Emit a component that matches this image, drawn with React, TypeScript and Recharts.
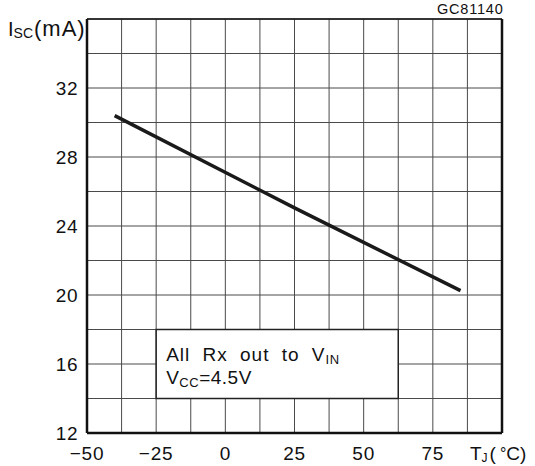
import React from "react";
import {
  CartesianGrid,
  Line,
  LineChart,
  ReferenceArea,
  ReferenceLine,
  XAxis,
  YAxis,
} from "recharts";

// junction temperature (°C) and short-circuit current (mA)
const temps = [-40, 25, 85];
const isc = [30.4, 25.05, 20.25];

const xTicks = [-50, -37.5, -25, -12.5, 0, 12.5, 25, 37.5, 50, 62.5, 75, 87.5, 100];
const yTicks = [12, 14, 16, 18, 20, 22, 24, 26, 28, 30, 32, 34, 36];
const xLabels = [-50, -25, 0, 25, 50, 75];
const yLabels = [12, 16, 20, 24, 28, 32];

const data = temps.map((t, i) => ({ t, isc: isc[i] }));

const FONT = "'Liberation Sans', Arial, sans-serif";

function XTick(props: any) {
  const { x, y, payload } = props;
  const v = payload.value;
  if (v === 100) {
    return (
      <text x={x - 32} y={y + 27} fontFamily={FONT} fontSize={19} fill="#111">
        T
        <tspan fontSize={12} dy={2}>J</tspan>
        <tspan dy={-2} dx={2}>(</tspan>
        <tspan dx={4} fontSize={16} dy={-1}>°</tspan>
        <tspan dy={1}>C)</tspan>
      </text>
    );
  }
  if (!xLabels.includes(v)) return null;
  return (
    <text
      x={x}
      y={y + 27}
      textAnchor="middle"
      fontFamily={FONT}
      fontSize={19}
      letterSpacing={0.8}
      fill="#111"
    >
      {String(v).replace("-", "\u2212")}
    </text>
  );
}

function YTick(props: any) {
  const { x, y, payload } = props;
  if (!yLabels.includes(payload.value)) return null;
  return (
    <text
      x={x - 9}
      y={y + 7}
      textAnchor="end"
      fontFamily={FONT}
      fontSize={19}
      letterSpacing={0.5}
      fill="#111"
    >
      {payload.value}
    </text>
  );
}

function BoxText(props: any) {
  const { x, y } = props.viewBox;
  return (
    <g fontFamily={FONT} fontSize={19} fill="#111">
      <text x={x + 10} y={y + 31} letterSpacing={1} wordSpacing={6}>
        All Rx out to V
        <tspan fontSize={13} dy={3} letterSpacing={0.5}>IN</tspan>
      </text>
      <text x={x + 10} y={y + 54} letterSpacing={0.5}>
        V<tspan fontSize={13} dy={3}>CC</tspan>
        <tspan dy={-3}>=4.5V</tspan>
      </text>
    </g>
  );
}

export default function App() {
  return (
    <div
      style={{
        position: "absolute",
        left: 0,
        top: 0,
        width: 535,
        height: 466,
        background: "#fff",
      }}
    >
      <LineChart
        width={535}
        height={466}
        data={data}
        margin={{ top: 19, right: 33, bottom: 0, left: 0 }}
      >
        <CartesianGrid stroke="#4a4a4a" strokeWidth={1} />
        <XAxis
          dataKey="t"
          type="number"
          domain={[-50, 100]}
          ticks={xTicks}
          interval={0}
          axisLine={false}
          tickLine={false}
          tickSize={0}
          tickMargin={0}
          height={33}
          tick={<XTick />}
        />
        <YAxis
          type="number"
          domain={[12, 36]}
          ticks={yTicks}
          interval={0}
          axisLine={false}
          tickLine={false}
          tickSize={0}
          tickMargin={0}
          width={87}
          tick={<YTick />}
        />
        <ReferenceArea
          x1={-25}
          x2={62.5}
          y1={14}
          y2={18}
          fill="#fff"
          fillOpacity={1}
          stroke="#222"
          strokeWidth={1.5}
          label={<BoxText />}
        />
        <ReferenceLine x={-50} stroke="#111" strokeWidth={2.5} />
        <ReferenceLine x={100} stroke="#111" strokeWidth={2.5} />
        <ReferenceLine y={12} stroke="#111" strokeWidth={2.5} />
        <ReferenceLine y={36} stroke="#111" strokeWidth={1.5} />
        <Line
          type="linear"
          dataKey="isc"
          stroke="#1a1a1a"
          strokeWidth={3.5}
          dot={false}
          isAnimationActive={false}
        />
      </LineChart>
      <div
        style={{
          position: "absolute",
          left: 8,
          top: 17,
          fontFamily: FONT,
          fontSize: 20,
          color: "#111",
          lineHeight: "24px",
          whiteSpace: "nowrap",
        }}
      >
        I<span style={{ fontSize: 14, position: "relative", top: 2 }}>SC</span>
        <span style={{ fontSize: 22, marginLeft: 1, letterSpacing: 1 }}>(mA)</span>
      </div>
      <div
        style={{
          position: "absolute",
          left: 437,
          top: 0,
          fontFamily: FONT,
          fontSize: 14.5,
          letterSpacing: 0.8,
          color: "#111",
          lineHeight: "18px",
        }}
      >
        GC81140
      </div>
    </div>
  );
}
